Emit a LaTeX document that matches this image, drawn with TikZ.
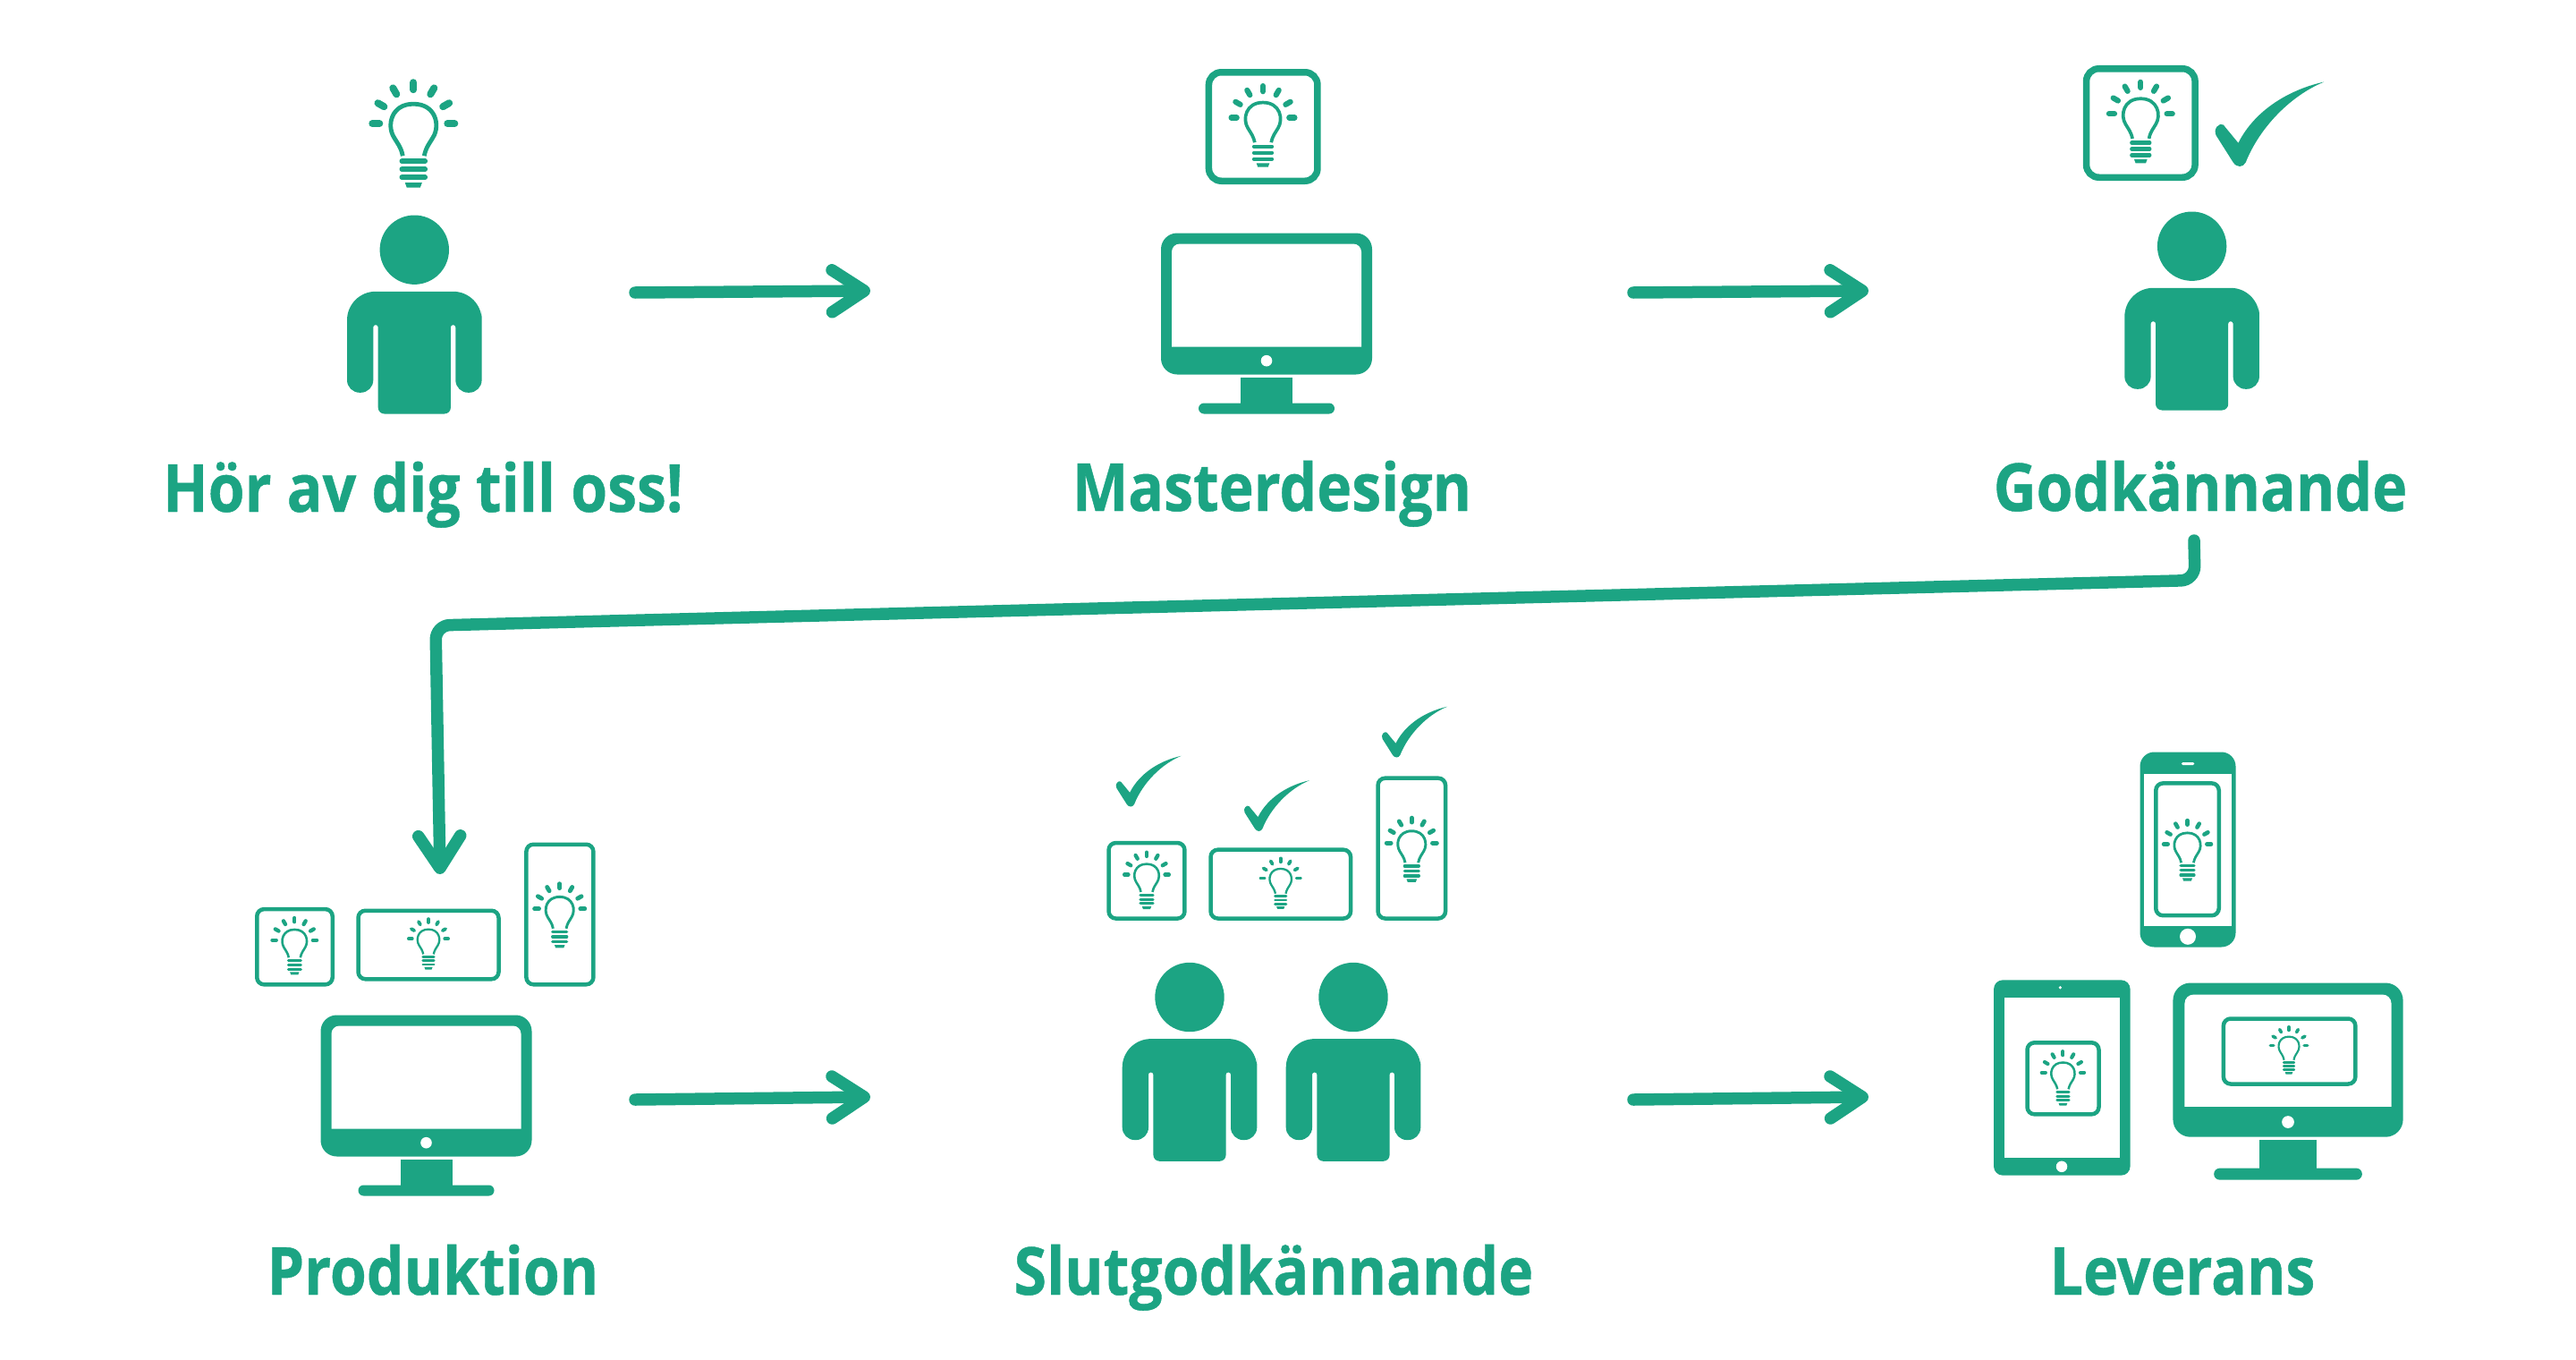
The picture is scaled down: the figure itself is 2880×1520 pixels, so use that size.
\documentclass[tikz,border=0pt]{standalone}
\usepackage{fontspec}
\usepackage{xcolor}
\usepackage{tikz}
\usetikzlibrary{arrows.meta,positioning}
\newfontfamily\labelfont[FakeStretch=0.893,FakeBold=0.6]{Open Sans}
\definecolor{ink}{HTML}{1CA483}

\tikzset{
  pics/bulb/.style={code={
    \begin{scope}[scale=#1]
    \foreach \ang in {0,-30,...,-180}
      \draw[ink, line cap=round, line width=#1*8pt] (\ang:38) -- (\ang:46);
    \draw[ink, line width=#1*4.8pt] (-12,36) .. controls (-14,26) and (-18,22) .. (-22,15)
      .. controls (-30,2) and (-25,-22) .. (0,-22) .. controls (25,-22) and (30,2) .. (22,15)
      .. controls (18,22) and (14,26) .. (12,36);
    \foreach \by in {42,51,60}
      \draw[ink, line cap=round, line width=#1*5.6pt] (-13,\by) -- (13,\by);
    \fill[ink] (-9.5,66) -- (9.5,66) -- (7.5,71.5) -- (-7.5,71.5) -- cycle;
    \end{scope}
  }},
  pics/person/.style={code={
    \fill[ink] (0,0) circle (38.7);
    \fill[ink, rounded corners=32pt] (-75.3,100) -- (-75.3,46.6) -- (75.3,46.6) -- (75.3,100)
      [rounded corners=14pt] -- (75.3,159.6) -- (46,159.6)
      [rounded corners=2.5pt] -- (46,84) -- (40.6,84)
      [rounded corners=7pt] -- (40.6,183.3) -- (-40.6,183.3)
      [rounded corners=2.5pt] -- (-40.6,84) -- (-46,84)
      [rounded corners=14pt] -- (-46,159.6) -- (-75.3,159.6) -- (-75.3,100) -- cycle;
  }},
  pics/monitor/.style={code={
    \fill[ink, rounded corners=#1*18pt] (-118*#1,0) rectangle (118*#1,158*#1);
    \fill[white, rounded corners=#1*9pt] (-106*#1,12*#1) -- (106*#1,12*#1) [sharp corners] -- (106*#1,127*#1)
      -- (-106*#1,127*#1) [rounded corners=#1*9pt] -- cycle;
    \fill[white] (0,142.7*#1) circle (6.3*#1);
    \fill[ink] (-29*#1,161*#1) rectangle (29*#1,192*#1);
    \fill[ink, rounded corners=#1*6pt] (-76*#1,190*#1) rectangle (76*#1,202*#1);
  }},
  pics/tick/.style={code={
    \fill[ink, scale=#1] (121.7,0) .. controls (85,8) and (45,30) .. (25.7,68.3) -- (9,48)
      .. controls (5,45) and (-3,52) .. (1,60) -- (20,90) .. controls (24,96) and (31,96) .. (34,90)
      .. controls (50,50) and (85,15) .. (121.7,0) -- cycle;
  }}
}

\begin{document}
\begin{tikzpicture}[
  x=1pt,
  y=-1pt,
  link/.style={draw=ink, line width=13.5pt, line cap=round, -{Straight Barb[length=36pt,width=47pt,round]}},
  steplabel/.style={anchor=base, text=ink, inner sep=0pt, font=\labelfont\bfseries\fontsize{74}{80}\selectfont},
  framebig/.style={draw=ink, line width=7.5pt, rounded corners=14pt, inner sep=0pt},
  framesmall/.style={draw=ink, line width=4.5pt, rounded corners=8pt, inner sep=0pt},
  casing/.style={fill=ink, inner sep=0pt},
  screen/.style={fill=white, inner sep=0pt},
  knob/.style={circle, fill=white, inner sep=0pt}
]
\useasboundingbox (0,0) rectangle (2880,1520);

% top row
\node[steplabel] (hor) at (473,572) {Hör av dig till oss!};
\pic at (462.3,138.2) {bulb=1};
\pic at (463.3,279.2) {person};
\coordinate (horout) at (710,327);
\coordinate (masterin) at (973,325);
\draw[link] (horout) -- (masterin);

\node[steplabel] (master) at (1422,571) {Masterdesign};
\node[framebig, minimum width=121.5pt, minimum height=121.5pt] (masterframe) at (1412.2,141.5) {};
\pic at (1412,131.5) {bulb=0.77};
\pic at (1416,260.5) {monitor=1};
\coordinate (masterout) at (1826,327);
\coordinate (godin) at (2089,325);
\draw[link] (masterout) -- (godin);

\node[steplabel] (god) at (2460,571) {Godkännande};
\node[framebig, minimum width=121.5pt, minimum height=121.5pt] (godframe) at (2393.3,137.5) {};
\pic at (2393.3,127.2) {bulb=0.77};
\pic at (2476.7,91.5) {tick=1};
\pic at (2450.6,275.2) {person};

% long way back
\coordinate (godout) at (2453,604);
\coordinate (turnright) at (2454,648.5);
\coordinate (turnleft) at (487,699);
\coordinate (prodin) at (492,977);
\draw[link, rounded corners=16pt] (godout) -- (turnright) -- (turnleft) -- (prodin);

% bottom row
\node[steplabel] (prod) at (484,1447) {Produktion};
\node[framesmall, minimum width=84.5pt, minimum height=84.2pt] (prodsquare) at (329.5,1058.2) {};
\pic at (329.3,1050.8) {bulb=0.54};
\node[framesmall, minimum width=157pt, minimum height=76.5pt] (prodwide) at (479,1056) {};
\pic at (479,1049.2) {bulb=0.48};
\node[framesmall, minimum width=75pt, minimum height=156.5pt] (prodtall) at (625.9,1022) {};
\pic at (625.7,1015.8) {bulb=0.61};
\pic at (476.5,1134.5) {monitor=1};
\coordinate (prodout) at (710,1229);
\coordinate (slutin) at (973,1226);
\draw[link] (prodout) -- (slutin);

\node[steplabel] (slut) at (1424,1447) {Slutgodkännande};
\node[framesmall, minimum width=84.9pt, minimum height=84.5pt] (slutsquare) at (1282,984.3) {};
\pic at (1282,977.5) {bulb=0.54};
\node[framesmall, minimum width=156.5pt, minimum height=76.8pt] (slutwide) at (1431.8,988.1) {};
\pic at (1431.7,981.5) {bulb=0.48};
\node[framesmall, minimum width=75.5pt, minimum height=156.8pt] (sluttall) at (1578.3,948.1) {};
\pic at (1578.3,942.2) {bulb=0.61};
\pic at (1247.7,844.8) {tick=0.6};
\pic at (1391,872.2) {tick=0.6};
\pic at (1545,789.8) {tick=0.6};
\pic at (1330,1114.5) {person};
\pic at (1513,1114.5) {person};
\coordinate (slutout) at (1826,1229);
\coordinate (levin) at (2089,1226);
\draw[link] (slutout) -- (levin);

\node[steplabel] (lev) at (2440,1447) {Leverans};
\node[casing, rounded corners=16pt, minimum width=107pt, minimum height=218pt] (phone) at (2446,949.5) {};
\node[screen, minimum width=97.7pt, minimum height=170pt] (phonescreen) at (2446,949.5) {};
\node[screen, rounded corners=1.5pt, minimum width=14.5pt, minimum height=3pt] (phoneear) at (2446,853.5) {};
\node[knob, minimum size=18pt] (phonehome) at (2446,1046.8) {};
\node[framesmall, minimum width=70.5pt, minimum height=147.8pt] (phoneframe) at (2445.5,949.3) {};
\pic at (2445.5,943.5) {bulb=0.575};
\node[casing, rounded corners=10pt, minimum width=152.5pt, minimum height=218.3pt] (tablet) at (2305.3,1204.5) {};
\node[screen, minimum width=128.4pt, minimum height=179.4pt] (tabletscreen) at (2305.5,1204.5) {};
\node[knob, minimum size=3.5pt] (tabletcam) at (2303.3,1103.8) {};
\node[knob, minimum size=12.5pt] (tablethome) at (2305,1303.8) {};
\node[framesmall, minimum width=80pt, minimum height=80pt] (tabletframe) at (2306.5,1205.3) {};
\pic at (2306.4,1198.8) {bulb=0.515};
\pic at (2558,1098.5) {monitor=1.09};
\node[framesmall, minimum width=147.5pt, minimum height=73pt] (monitorframe) at (2559.6,1175) {};
\pic at (2559,1168.5) {bulb=0.45};
\end{tikzpicture}
\end{document}
